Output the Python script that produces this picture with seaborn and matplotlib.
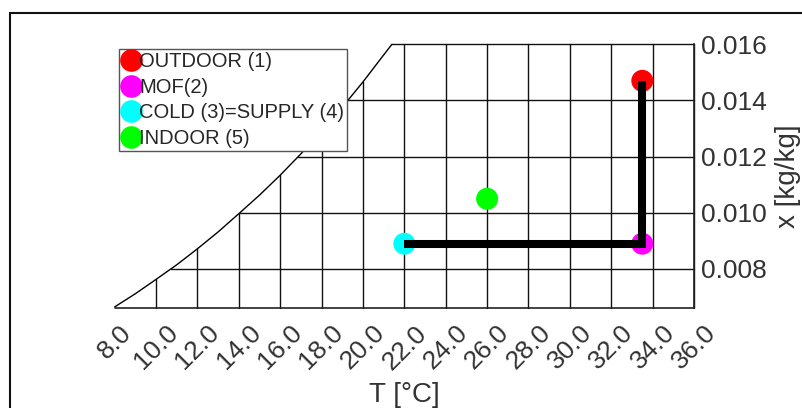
import numpy as np
import pandas as pd
import seaborn as sns
import matplotlib
matplotlib.use("Agg")
import matplotlib.pyplot as plt
from matplotlib.lines import Line2D
from matplotlib.patches import Rectangle

# ---- data ----
point_labels = ["OUTDOOR (1)", "MOF(2)", "COLD (3)=SUPPLY (4)", "INDOOR (5)"]
point_T = [33.5, 33.5, 22.0, 26.0]
point_x = [0.0147, 0.0089, 0.0089, 0.0105]
point_colors = ["#ff0000", "#ff00ff", "#00ffff", "#00ff00"]

path_T = [22.0, 33.5, 33.5]
path_x = [0.0089, 0.0089, 0.0147]

sat_T = [8, 9, 10, 11, 12, 13, 14, 15, 16, 17, 18, 19, 20, 21, 21.4]
sat_x = [0.00665, 0.00712, 0.00763, 0.00815, 0.00872, 0.00932, 0.00997, 0.01063,
         0.01134, 0.01210, 0.01291, 0.01376, 0.01466, 0.01562, 0.01600]

x_ticks = [8, 10, 12, 14, 16, 18, 20, 22, 24, 26, 28, 30, 32, 34, 36]
x_tick_labels = [f"{t:.1f}" for t in x_ticks]
y_ticks = [0.008, 0.010, 0.012, 0.014, 0.016]
y_tick_labels = ["0.008", "0.010", "0.012", "0.014", "0.016"]

# ---- style ----
sns.set_style("white")
plt.rcParams["font.family"] = ["Liberation Sans", "DejaVu Sans"]

W, H = 802, 408
fig = plt.figure(figsize=(W / 100, H / 100), dpi=100)
ax_l, ax_r, ax_t, ax_b = 114.7, 694.0, 44.3, 308.3
ax = fig.add_axes([ax_l / W, 1 - ax_b / H, (ax_r - ax_l) / W, (ax_b - ax_t) / H])

xmin, xmax = 8, 36
ymin, ymax = 0.0066, 0.016
ax.set_xlim(xmin, xmax)
ax.set_ylim(ymin, ymax)

# saturation curve
sat_df = pd.DataFrame({"T": sat_T, "x": sat_x})
sns.lineplot(data=sat_df, x="T", y="x", sort=False, estimator=None, color="black", lw=1.0,
             ax=ax, clip_on=False, zorder=2)

# grid clipped by saturation curve
sat_T_arr = np.array(sat_T, float)
sat_x_arr = np.array(sat_x, float)
for t in x_ticks[1:]:
    top = np.interp(t, sat_T_arr, sat_x_arr) if t <= sat_T_arr[-1] else ymax
    ax.plot([t, t], [ymin, min(top, ymax)], color="#111111", lw=1.0, clip_on=False, zorder=1)
for y in y_ticks:
    left = np.interp(y, sat_x_arr, sat_T_arr)
    ax.plot([left, xmax], [y, y], color="#111111", lw=1.0, clip_on=False, zorder=1)
# bottom axis line
ax.plot([xmin, xmax], [ymin, ymin], color="#222222", lw=1.2, clip_on=False, zorder=1)

# points
pts = pd.DataFrame({"T": point_T, "x": point_x, "label": point_labels})
sns.scatterplot(data=pts, x="T", y="x", hue="label", palette=dict(zip(point_labels, point_colors)),
                s=250, edgecolor="none", linewidth=0, legend=False, ax=ax, zorder=3, clip_on=False)

# process path
path_df = pd.DataFrame({"T": path_T, "x": path_x})
sns.lineplot(data=path_df, x="T", y="x", sort=False, estimator=None, color="black", lw=5.8,
             ax=ax, zorder=4, solid_capstyle="butt", solid_joinstyle="miter")

# axes styling
for s in ["top", "left", "bottom"]:
    ax.spines[s].set_visible(False)
ax.spines["right"].set_color("#222222")
ax.spines["right"].set_linewidth(1.2)
ax.yaxis.tick_right()
ax.yaxis.set_label_position("right")
ax.set_xticks(x_ticks)
ax.set_xticklabels(x_tick_labels, rotation=45, ha="center", fontsize=19, color="#333333")
ax.set_yticks(y_ticks)
ax.set_yticklabels(y_tick_labels, fontsize=19, color="#333333")
ax.tick_params(axis="x", length=0, pad=9)
ax.tick_params(axis="y", length=0, pad=5)
ax.set_xlabel("T [°C]", fontsize=20, color="#333333", labelpad=6)
ax.set_ylabel("x [kg/kg]", fontsize=20, color="#333333", labelpad=6)

# legend
handles = [Line2D([], [], marker="o", ls="none", markersize=16.3, markerfacecolor=c,
                  markeredgewidth=0, color=c) for c in point_colors]
leg = ax.legend(handles, point_labels, loc="upper left", bbox_to_anchor=(0.0074, 0.982),
                borderaxespad=0, borderpad=0.15, handlelength=0.85, handletextpad=0.0,
                labelspacing=0.33, fontsize=14.5, frameon=True, fancybox=False,
                framealpha=1, edgecolor="#555555")
leg.get_frame().set_linewidth(1.0)
leg.set_zorder(5)

# outer frame (extends beyond the image on right and bottom)
fig.patches.append(Rectangle((10 / W, -0.2), 1.2, 1 - 13 / H + 0.2, transform=fig.transFigure,
                             fill=False, edgecolor="#111111", lw=1.5, clip_on=False))

fig.savefig("out.png", dpi=100)
